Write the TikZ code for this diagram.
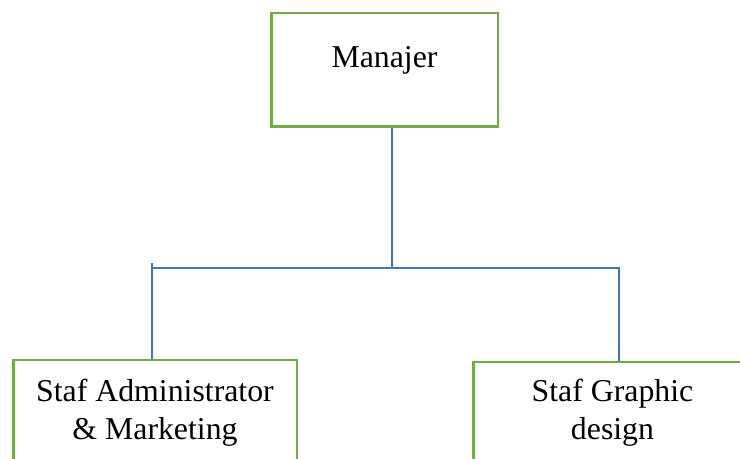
\documentclass[tikz,border=0pt]{standalone}
\usepackage{fontspec}
\setmainfont{Liberation Serif}
\usepackage{tikz}
\usetikzlibrary{positioning}
\definecolor{boxgreen}{HTML}{70AD47}
\definecolor{linkblue}{HTML}{4472C4}
\tikzstyle{link}=[draw=linkblue,line width=0.65pt]
\newcommand{\posnode}{\node[rectangle,draw=boxgreen,line width=1.25pt,align=center,inner sep=0pt,font=\fontsize{15.9}{19}\selectfont]}

\begin{document}
\begin{tikzpicture}[x=0.5pt,y=-0.5pt]
          \useasboundingbox (0,0) rectangle (740,459);
          \posnode[minimum width=113.25pt,minimum height=56.75pt,text height=11pt,text depth=13pt] (mgr) at (384.5,70) {Manajer}; %
          \posnode[minimum width=141.75pt,minimum height=52.35pt] (adm) at (155,412.6) {Staf Administrator\\ \& Marketing}; %
          \posnode[minimum width=139.25pt,minimum height=50.35pt] (gfx) at (612.5,412.6) {Staf Graphic\\ design}; %
          \coordinate (bus) at (392,268);
          \coordinate (stubL) at (152,263);
          \coordinate (busR) at (619,268);
          \draw[link] (bus |- mgr.south) -- (bus);
          \draw[link] (stubL) -- (stubL |- adm.north);
          \draw[link] (stubL |- bus) -- (busR) -- (busR |- gfx.north);
        \end{tikzpicture}
\end{document}
